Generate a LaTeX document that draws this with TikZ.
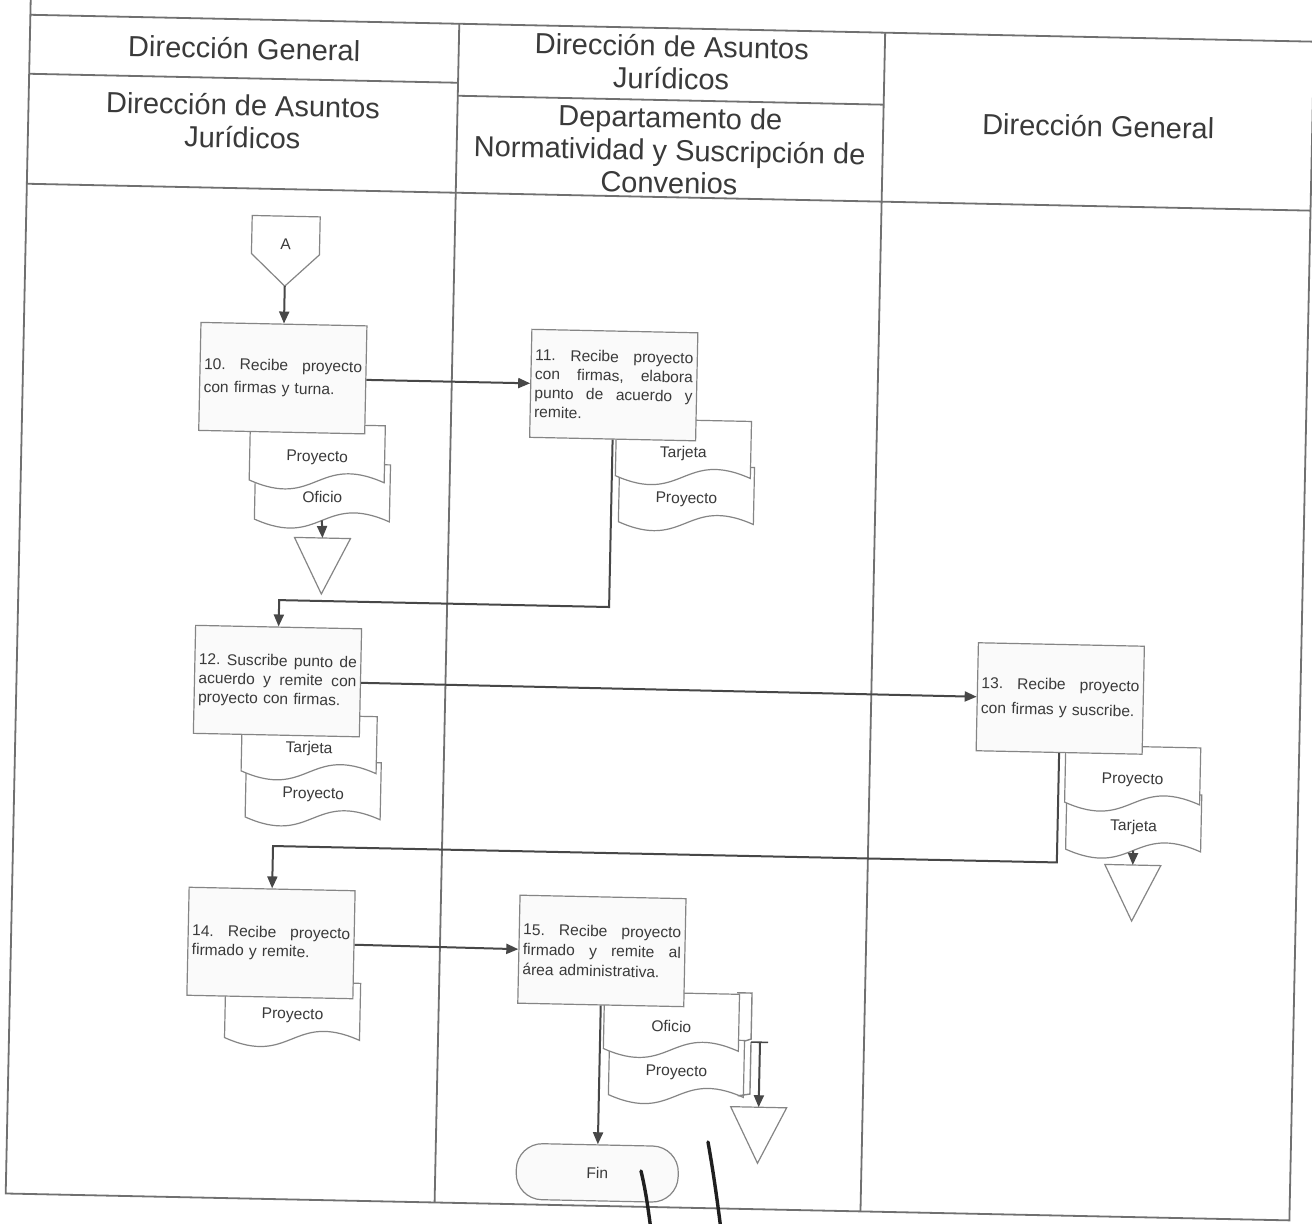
\documentclass[tikz,border=0pt]{standalone}
\usepackage{fontspec}
\setmainfont{Liberation Sans}
\usetikzlibrary{arrows.meta,calc}
\definecolor{ink}{HTML}{3A3A3A}
\definecolor{rule}{HTML}{707070}
\definecolor{edge}{HTML}{858585}
\definecolor{paper}{HTML}{FAFAFA}
% a fully justified line inside a step box (box text width is 79pt);
% the gaps between words are marked with \gap
\newcommand\jl[1]{\leavevmode\hbox to 79pt{#1}}
\newcommand\gap{\hskip 0.25em plus 1fill\relax}
% document symbol: name, centre x, centre y, label
\newcommand\paperdoc[4]{%
  \begin{scope}[shift={(#2,#3)}]
    \path[paperline] (-67.5,-28.5) -- (67.5,-28.5) -- (67.5,28.5)
      .. controls (0,0) and (0,57) .. (-67.5,28.5) -- cycle;
    \node[papertext] (#1) at (0,5) {#4};
    \coordinate (#1-foot) at (0,28.5);
  \end{scope}}
% archive triangle: name of its top point, centre x, top y
\newcommand\archive[3]{%
  \path[paperline] (#2-28,#3) -- (#2+28,#3) -- (#2,#3+56) -- cycle;
  \coordinate (#1) at (#2,#3);}
\begin{document}
\begin{tikzpicture}[x=0.5pt,y=-0.5pt,
  tablerule/.style={draw=rule,line width=0.9pt},
  head/.style={text=ink,font=\fontsize{14.5}{16.3}\selectfont,align=center,inner sep=0pt},
  stepbox/.style={draw=edge,fill=paper,line width=0.6pt,minimum width=83pt,
    minimum height=54pt,text width=79pt,inner sep=2pt,text=ink,
    font=\fontsize{7.8}{9.5}\selectfont,align=left},
  endbox/.style={draw=edge,fill=paper,line width=0.6pt,rounded corners=13pt,
    minimum width=81pt,minimum height=28pt,text=ink,font=\fontsize{7.8}{9.5}\selectfont},
  paperline/.style={draw=edge,fill=white,line width=0.6pt},
  papertext/.style={text=ink,font=\fontsize{7.8}{9.5}\selectfont,inner sep=0pt},
  bracket/.style={draw=edge,line width=0.7pt},
  flow/.style={draw=black!72,line width=1pt},
  arr/.style={flow,-{Triangle[length=6pt,width=5pt]}},
  pen/.style={draw=black!88,line width=1.7pt,line cap=round}]
\useasboundingbox (0,0) rectangle (1312,1224);
\fill[white] (0,0) rectangle (1312,1224);

\begin{scope}[transform canvas={rotate around={-1.2:(656,612)}}]
  % table frame and lanes
  \draw[tablerule] (18,-30) -- (18,1207) -- (1302,1207) -- (1302,28) -- (18,28);
  \draw[tablerule] (18,197) -- (1302,197);
  \draw[tablerule] (447,28) -- (447,1207);
  \draw[tablerule] (873,28) -- (873,1207);
  \draw[tablerule] (18,87) -- (447,87);
  \draw[tablerule] (447,100) -- (873,100);

  % lane headings
  \node[head] (h1a) at (232.5,57) {Dirección General};
  \node[head] (h1b) at (232.5,130) {Dirección de Asuntos\\Jurídicos};
  \node[head] (h2a) at (660,62) {Dirección de Asuntos\\Jurídicos};
  \node[head] (h2b) at (660,150) {Departamento de\\Normatividad y Suscripción de\\Convenios};
  \node[head] (h3) at (1088,117) {Dirección General};

  % off-page connector
  \path[paperline] (244,224) -- (312,224) -- (312,262) -- (278,294) -- (244,262) -- cycle;
  \node[papertext] (conA) at (278,252) {A};
  \coordinate (conAtip) at (278,294);

  % step 10
  \paperdoc{d10b}{320}{499}{Oficio}
  \paperdoc{d10a}{314}{460}{Proyecto}
  \node[stepbox,font=\fontsize{7.8}{11.5}\selectfont] (b10) at (278,386)
    {\jl{10.\gap Recibe\gap proyecto}\\con firmas y turna.};
  \archive{t10}{321}{545}

  % step 11
  \paperdoc{d11b}{684}{494}{Proyecto}
  \paperdoc{d11a}{680}{448}{Tarjeta}
  \node[stepbox] (b11) at (609,386)
    {\jl{11.\gap Recibe\gap proyecto}\\\jl{con\gap firmas,\gap elabora}\\
     \jl{punto\gap de\gap acuerdo\gap y}\\remite.};

  % step 12
  \paperdoc{d12b}{317}{797}{Proyecto}
  \paperdoc{d12a}{312}{751}{Tarjeta}
  \node[stepbox] (b12) at (279,689)
    {\jl{12.\gap Suscribe\gap punto\gap de}\\\jl{acuerdo\gap y\gap remite\gap con}\\
     proyecto con firmas.};

  % step 13
  \paperdoc{d13b}{1138}{812}{Tarjeta}
  \paperdoc{d13a}{1136}{765}{Proyecto}
  \node[stepbox,font=\fontsize{7.8}{12.5}\selectfont] (b13) at (1062,690)
    {\jl{13.\gap Recibe\gap proyecto}\\con firmas y suscribe.};
  \archive{t13}{1138}{855}

  % step 14
  \paperdoc{d14}{301}{1018}{Proyecto}
  \node[stepbox] (b14) at (278,951)
    {\jl{14.\gap Recibe\gap proyecto}\\firmado y remite.};

  % step 15
  \paperdoc{d15b}{686}{1067}{Proyecto}
  \paperdoc{d15a}{680}{1021}{Oficio}
  \node[stepbox,font=\fontsize{7.8}{10}\selectfont] (b15) at (609,952)
    {\jl{15.\gap Recibe\gap proyecto}\\\jl{firmado\gap y\gap remite\gap al}\\
     área administrativa.};
  \archive{t15}{769}{1105}
  \node[endbox] (fin) at (609,1174) {Fin};

  % brackets beside the documents of step 15
  \draw[bracket] (745,991) -- (760,991) -- (760,1037) -- (754,1039);
  \draw[bracket] (760,1040) -- (760,1092) -- (748,1094);
  \draw[flow,line width=0.8pt] (760,1040) -- (777,1040);
  \coordinate (t15src) at (769,1040);

  % connectors
  \coordinate (k11) at (609,608);
  \coordinate (k12) at (279,608);
  \coordinate (k13) at (1062,854);
  \coordinate (k14) at (278,854);
  \draw[arr] (conAtip) -- (b10.north);
  \draw[arr] (b10.east) -- (b11.west);
  \draw[arr] (b11.south) -- (k11) -- (k12) -- (b12.north);
  \draw[arr] (b12.east) -- (b13.west);
  \draw[arr] (b13.south) -- (k13) -- (k14) -- (b14.north);
  \draw[arr] (b14.east) -- (b15.west);
  \draw[arr] (b15.south) -- (fin.north);
  \draw[arr] (d10b-foot) -- (t10);
  \draw[arr] (d13b-foot) -- (t13);
  \draw[arr] (t15src) -- (t15);
\end{scope}

% handwritten pen strokes at the foot of the page
\draw[pen] (641,1171) .. controls (646,1192) and (648,1208) .. (651,1230);
\draw[pen] (708,1142) .. controls (713,1170) and (717,1198) .. (721,1230);
\end{tikzpicture}
\end{document}
